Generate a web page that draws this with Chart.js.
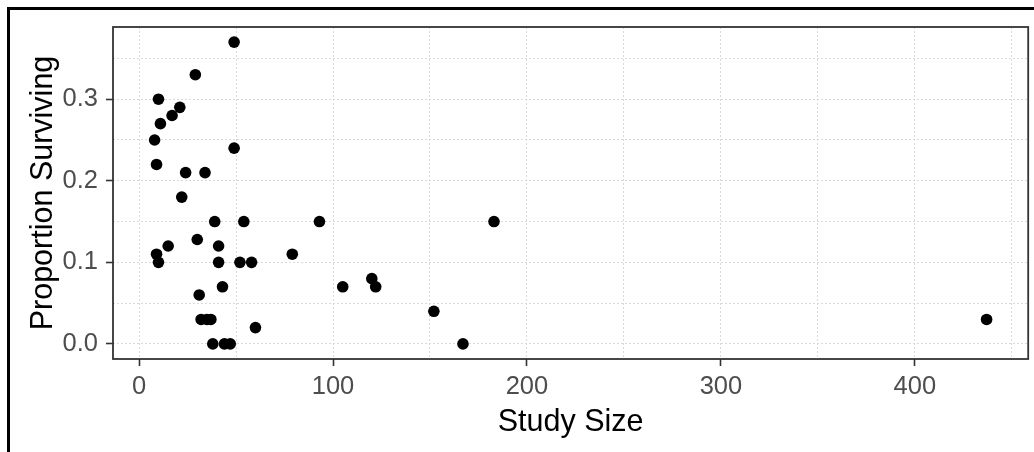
<!DOCTYPE html>
<html>
<head>
<meta charset="utf-8">
<script src="https://cdn.jsdelivr.net/npm/chart.js@4/dist/chart.umd.min.js"></script>
<style>
  html, body { margin: 0; padding: 0; background: #ffffff; overflow: hidden; }
  #wrap { position: relative; width: 1034px; height: 452px; }
  #frame { position: absolute; left: 7px; top: 7px; width: 1100px; height: 520px; border: 3px solid #000; box-sizing: border-box; pointer-events: none; }
  canvas { position: absolute; left: 0; top: 0; }
</style>
</head>
<body>
<div id="wrap">
  <canvas id="c" width="1034" height="452"></canvas>
  <div id="frame"></div>
</div>
<script>
// ---- data ----
const studySize = [49, 29, 10, 21, 17, 11, 8, 49, 9, 24, 34, 22, 39, 54, 93, 183, 30, 15, 41, 9, 79, 10, 41, 52, 58, 43, 105, 122, 120, 31, 32, 35, 37, 60, 152, 38, 44, 47, 167, 437];
const proportionSurviving = [0.37, 0.33, 0.30, 0.29, 0.28, 0.27, 0.25, 0.24, 0.22, 0.21, 0.21, 0.18, 0.15, 0.15, 0.15, 0.15, 0.128, 0.12, 0.12, 0.11, 0.11, 0.10, 0.10, 0.10, 0.10, 0.07, 0.07, 0.07, 0.08, 0.06, 0.03, 0.03, 0.03, 0.02, 0.04, 0.0, 0.0, 0.0, 0.0, 0.03];

const xGridValues = [0, 50, 100, 150, 200, 250, 300, 350, 400, 450];
const xMajorValues = [0, 100, 200, 300, 400];
const xMajorLabels = ['0', '100', '200', '300', '400'];
const yGridValues = [0, 0.05, 0.1, 0.15, 0.2, 0.25, 0.3, 0.35];
const yMajorValues = [0, 0.1, 0.2, 0.3];
const yMajorLabels = ['0.0', '0.1', '0.2', '0.3'];

const xTitle = 'Study Size';
const yTitle = 'Proportion Surviving';

// ---- helpers ----
function majorIndex(list, v) { return list.findIndex(m => Math.abs(m - v) < 1e-9); }

const xMin = -13.45, xMax = 458.45;
const yMin = -0.0185, yMax = 0.3885;

const tickFont = { family: '"Liberation Sans", Arial, sans-serif', size: 25.5 };
const titleFont = { family: '"Liberation Sans", Arial, sans-serif', size: 30.5 };
const gridColor = '#dcd8dc';
const axisDark = '#333333';

const panelBorder = {
  id: 'panelBorder',
  afterDraw(chart) {
    const a = chart.chartArea, ctx = chart.ctx;
    ctx.save();
    ctx.strokeStyle = axisDark;
    ctx.lineWidth = 1.8;
    ctx.strokeRect(a.left, a.top, a.right - a.left, a.bottom - a.top);
    ctx.restore();
  }
};

new Chart(document.getElementById('c'), {
  type: 'scatter',
  data: {
    datasets: [{
      data: studySize.map((x, i) => ({ x: x, y: proportionSurviving[i] })),
      backgroundColor: '#000000',
      borderWidth: 0,
      pointRadius: 5.8,
      pointHoverRadius: 5.8
    }]
  },
  options: {
    responsive: false,
    animation: false,
    devicePixelRatio: 1,
    layout: { padding: { left: 0, top: 27, right: 4, bottom: 0 } },
    plugins: { legend: { display: false }, tooltip: { enabled: false } },
    scales: {
      x: {
        type: 'linear',
        min: xMin, max: xMax,
        afterBuildTicks: s => { s.ticks = xGridValues.map(v => ({ value: v })); },
        afterFit: s => { s.height = 93; },
        ticks: {
          autoSkip: false, maxRotation: 0, padding: 6, color: '#4d4d4d', font: tickFont,
          callback: v => { const i = majorIndex(xMajorValues, v); return i >= 0 ? xMajorLabels[i] : ''; }
        },
        grid: {
          color: gridColor, lineWidth: 1, drawTicks: true, tickLength: 7,
          tickWidth: 1.6,
          tickColor: ctx => (ctx.tick && majorIndex(xMajorValues, ctx.tick.value) >= 0) ? axisDark : 'rgba(0,0,0,0)'
        },
        border: { display: false, dash: [2, 2] },
        title: { display: true, text: xTitle, color: '#000000', font: titleFont, padding: { top: 0, bottom: 11 } }
      },
      y: {
        type: 'linear',
        min: yMin, max: yMax,
        afterBuildTicks: s => { s.ticks = yGridValues.map(v => ({ value: v })); },
        afterFit: s => { s.width = 113; },
        ticks: {
          autoSkip: false, padding: 8, color: '#4d4d4d', font: tickFont,
          callback: v => { const i = majorIndex(yMajorValues, v); return i >= 0 ? yMajorLabels[i] : ''; }
        },
        grid: {
          color: gridColor, lineWidth: 1, drawTicks: true, tickLength: 7,
          tickWidth: 1.6,
          tickColor: ctx => (ctx.tick && majorIndex(yMajorValues, ctx.tick.value) >= 0) ? axisDark : 'rgba(0,0,0,0)'
        },
        border: { display: false, dash: [2, 2] },
        title: { display: true, text: yTitle, color: '#000000', font: titleFont, padding: { top: 25, bottom: 0 } }
      }
    }
  },
  plugins: [panelBorder]
});
</script>
</body>
</html>
